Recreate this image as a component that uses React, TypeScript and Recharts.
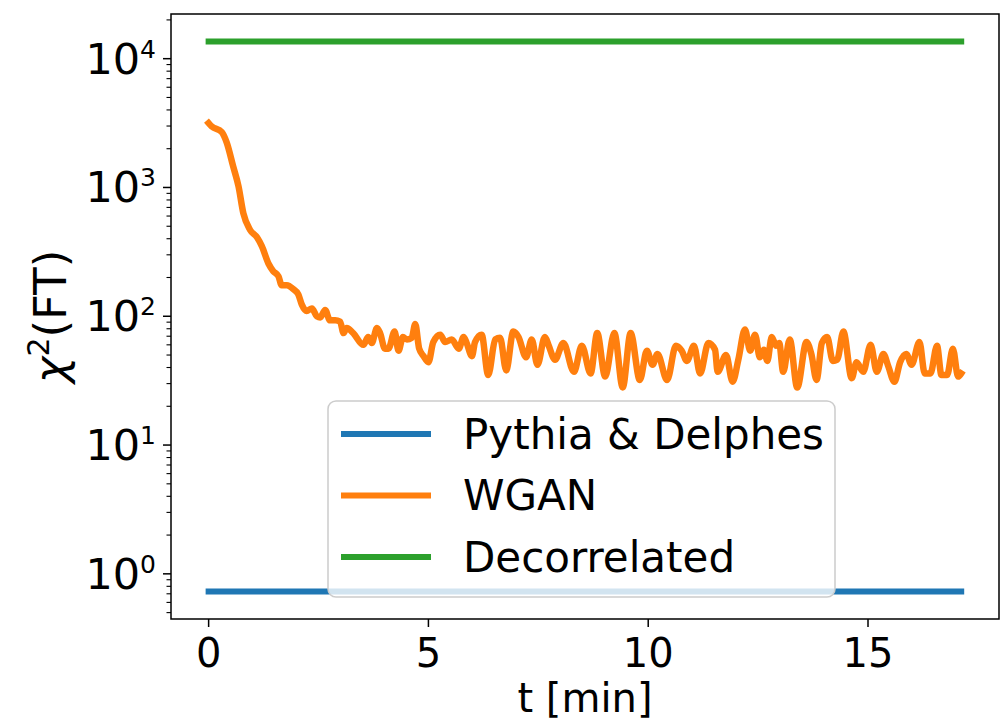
import React from 'react';
import { LineChart, Line, XAxis, YAxis, ReferenceArea, Legend } from 'recharts';

// ---- data ----
const tValues = [
  0, 0.07, 0.3, 0.41, 0.56, 0.68, 0.79, 0.94, 1.1, 1.21,
  1.36, 1.47, 1.59, 1.66, 1.78, 1.93, 2.04, 2.12, 2.23, 2.35,
  2.46, 2.54, 2.65, 2.76, 2.88, 2.99, 3.07, 3.14, 3.29, 3.52,
  3.63, 3.71, 3.83, 3.9, 4.01, 4.09, 4.23, 4.32, 4.42, 4.51,
  4.62, 4.7, 4.79, 4.89, 5.0, 5.11, 5.27, 5.38, 5.53, 5.69,
  5.8, 5.87, 5.99, 6.06, 6.21, 6.36, 6.52, 6.63, 6.77, 6.93,
  7.05, 7.22, 7.35, 7.48, 7.65, 7.73, 7.88, 8.07, 8.31, 8.49,
  8.69, 8.84, 9.02, 9.23, 9.42, 9.6, 9.81, 9.97, 10.1, 10.21,
  10.43, 10.63, 10.76, 10.88, 11.04, 11.18, 11.37, 11.52, 11.58, 11.77,
  11.92, 12.05, 12.2, 12.32, 12.43, 12.54, 12.63, 12.71, 12.81, 12.91,
  12.98, 13.07, 13.22, 13.39, 13.6, 13.71, 13.83, 13.95, 14.07, 14.2,
  14.3, 14.44, 14.63, 14.74, 14.89, 15.06, 15.2, 15.35, 15.46, 15.6,
  15.73, 15.87, 15.99, 16.17, 16.29, 16.42, 16.57, 16.67, 16.8, 16.93,
  17.05, 17.12,
];

const wganValues = [
  3160, 2980, 2690, 2240, 1450, 1020, 630, 470, 410, 350,
  257, 224, 204, 174, 174, 162, 148, 123, 110, 115,
  100, 98, 112, 93, 93, 91, 74, 81, 74, 60,
  69, 62, 81, 74, 56, 56, 76, 54, 69, 66,
  68, 87, 56, 49, 44, 63, 72, 63, 66, 56,
  69, 62, 49, 63, 72, 35, 66, 68, 38, 76,
  69, 48, 66, 42, 69, 60, 46, 62, 37, 59,
  36, 74, 34, 74, 28, 74, 32, 54, 42, 51,
  32, 59, 54, 45, 59, 36, 62, 55, 37, 50,
  31, 46, 79, 54, 72, 48, 55, 45, 69, 59,
  62, 37, 66, 28, 63, 51, 32, 62, 69, 45,
  46, 76, 33, 44, 37, 60, 37, 51, 41, 31,
  44, 51, 42, 63, 36, 36, 59, 35, 35, 56,
  34, 36,
];

const pythiaValue = 0.73;
const decorrelatedValue = 13600;

const seriesNames = ['Pythia & Delphes', 'WGAN', 'Decorrelated'];
const seriesColors = ['#1f77b4', '#ff7f0e', '#2ca02c'];

const xTicks = [0, 5, 10, 15];
const yMajorTicks = [1, 10, 100, 1000, 10000];
const yMinorTicks = [
  0.5, 0.6, 0.7, 0.8, 0.9,
  2, 3, 4, 5, 6, 7, 8, 9,
  20, 30, 40, 50, 60, 70, 80, 90,
  200, 300, 400, 500, 600, 700, 800, 900,
  2000, 3000, 4000, 5000, 6000, 7000, 8000, 9000,
  20000,
];
const xDomain = [-0.856, 17.98];
const yDomain = [0.446, 22230];

const xLabel = 't [min]';
const yLabelSymbol = 'χ';
const yLabelSup = '2';
const yLabelRest = '(FT)';

// ---- derived tables ----
const wganData = tValues.map((t, i) => ({ t, v: wganValues[i] }));
const tStart = tValues[0];
const tEnd = tValues[tValues.length - 1];
const pythiaData = [{ t: tStart, v: pythiaValue }, { t: tEnd, v: pythiaValue }];
const decorrelatedData = [{ t: tStart, v: decorrelatedValue }, { t: tEnd, v: decorrelatedValue }];
const allYTicks = [...yMinorTicks, ...yMajorTicks].sort((a, b) => a - b);

const FONT = "'DejaVu Sans', sans-serif";

const YTick = (props: any) => {
  const { x, y, payload } = props;
  const v = payload.value;
  const major = yMajorTicks.includes(v);
  const exp = Math.round(Math.log10(v));
  return (
    <g>
      <line x1={x - (major ? 8 : 4.5)} x2={x} y1={y} y2={y} stroke="#000" strokeWidth={major ? 1.5 : 1.1} />
      {major && (
        <text x={x - 15} y={y + 15} textAnchor="end" fontFamily={FONT} fontSize={43} fill="#000">
          <tspan>10</tspan>
          <tspan dy={-16} fontSize={25}>{exp}</tspan>
        </text>
      )}
    </g>
  );
};

const XLabel = (props: any) => {
  const vb = props.viewBox || { x: 171, width: 828 };
  return (
    <text x={vb.x + vb.width / 2} y={712} textAnchor="middle" fontFamily={FONT} fontSize={40} fill="#000">
      {xLabel}
    </text>
  );
};

const YLabel = (props: any) => {
  const vb = props.viewBox || { y: 14, height: 605 };
  const cy = vb.y + vb.height / 2;
  const bx = 66;
  return (
    <text
      x={bx}
      y={cy}
      transform={`rotate(-90, ${bx}, ${cy})`}
      textAnchor="middle"
      fontFamily={FONT}
      fontSize={45}
      fill="#000"
    >
      <tspan fontStyle="italic">{yLabelSymbol}</tspan>
      <tspan dy={-17} fontSize={30}>{yLabelSup}</tspan>
      <tspan dy={17}>{yLabelRest}</tspan>
    </text>
  );
};

const LegendBox = () => (
  <svg width={510} height={199} style={{ display: 'block' }}>
    <rect x={1} y={1} width={507} height={196} rx={8} ry={8} fill="rgba(255,255,255,0.8)" stroke="#cccccc" strokeWidth={1.5} />
    {seriesNames.map((n, i) => {
      const ry = 34 + i * 61.5;
      return (
        <g key={n}>
          <line x1={14} x2={104} y1={ry} y2={ry} stroke={seriesColors[i]} strokeWidth={6} />
          <text x={136} y={ry + 14.5} fontSize={42} fontFamily={FONT} fill="#000">
            {n}
          </text>
        </g>
      );
    })}
  </svg>
);

export default function App() {
  return (
    <div style={{ position: 'absolute', left: 0, top: 0, width: 1005, height: 724, background: '#fff' }}>
      <LineChart width={1005} height={724} margin={{ top: 14, right: 6, bottom: 45, left: 71 }}>
        <XAxis
          type="number"
          dataKey="t"
          domain={xDomain}
          allowDataOverflow
          ticks={xTicks}
          interval={0}
          tickSize={8}
          tickMargin={12}
          height={60}
          axisLine={false}
          tickLine={{ stroke: '#000', strokeWidth: 1.5 }}
          tick={{ fontSize: 40, fill: '#000', fontFamily: FONT }}
          label={<XLabel />}
        />
        <YAxis
          type="number"
          scale="log"
          domain={yDomain}
          allowDataOverflow
          ticks={allYTicks}
          interval={0}
          tickSize={0}
          tickMargin={0}
          tickLine={false}
          axisLine={false}
          width={100}
          tick={<YTick />}
          label={<YLabel />}
        />
        <ReferenceArea
          x1={xDomain[0]}
          x2={xDomain[1]}
          y1={yDomain[0]}
          y2={yDomain[1]}
          fill="none"
          fillOpacity={0}
          stroke="#000"
          strokeWidth={1.5}
          ifOverflow="visible"
        />
        <Line
          data={pythiaData}
          dataKey="v"
          name={seriesNames[0]}
          stroke={seriesColors[0]}
          strokeWidth={6}
          strokeLinecap="square"
          dot={false}
          activeDot={false}
          isAnimationActive={false}
        />
        <Line
          type="monotone"
          data={wganData}
          dataKey="v"
          name={seriesNames[1]}
          stroke={seriesColors[1]}
          strokeWidth={6.5}
          strokeLinecap="square"
          strokeLinejoin="round"
          dot={false}
          activeDot={false}
          isAnimationActive={false}
        />
        <Line
          data={decorrelatedData}
          dataKey="v"
          name={seriesNames[2]}
          stroke={seriesColors[2]}
          strokeWidth={6}
          strokeLinecap="square"
          dot={false}
          activeDot={false}
          isAnimationActive={false}
        />
        <Legend
          layout="vertical"
          align="center"
          verticalAlign="middle"
          content={<LegendBox />}
          wrapperStyle={{ left: 327, top: 400, width: 510, height: 199, right: 'auto', bottom: 'auto' }}
        />
      </LineChart>
    </div>
  );
}
